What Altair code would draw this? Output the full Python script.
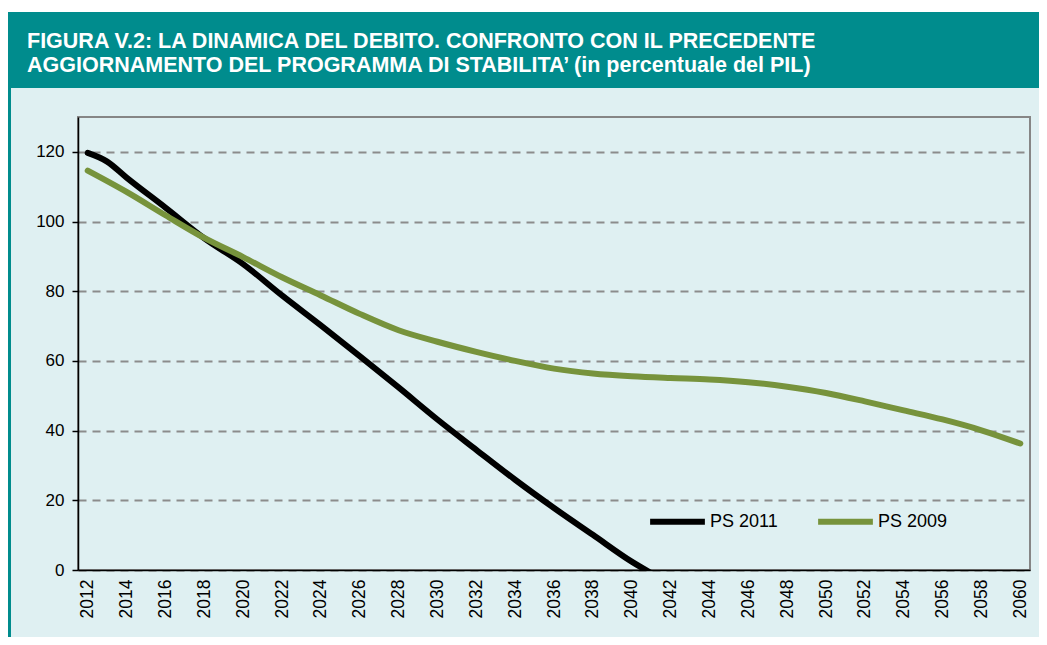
import altair as alt
import pandas as pd

# ---- data ----
years_ps2011 = [2012, 2013, 2014, 2016, 2018, 2020, 2022, 2024, 2026, 2028,
                2030, 2032, 2034, 2036, 2038, 2040, 2041]
ps2011 = [119.7, 117.2, 112.6, 104.0, 95.2, 87.8, 78.8, 70.2, 61.4, 52.4,
          43.2, 34.5, 25.9, 17.8, 10.1, 2.4, -0.9]

years_ps2009 = [2012, 2014, 2016, 2018, 2020, 2022, 2024, 2026, 2028, 2030,
                2032, 2034, 2036, 2038, 2040, 2042, 2044, 2046, 2048, 2050,
                2052, 2054, 2056, 2058, 2060]
ps2009 = [114.6, 108.5, 101.8, 95.3, 89.8, 84.0, 78.8, 73.5, 68.8, 65.5,
          62.6, 60.0, 57.8, 56.4, 55.6, 55.1, 54.7, 53.9, 52.6, 50.8,
          48.4, 45.8, 43.2, 40.1, 36.3]

series_names = ["PS 2011", "PS 2009"]
series_colors = ["#000000", "#77933C"]

x_tick_labels = [2012, 2014, 2016, 2018, 2020, 2022, 2024, 2026, 2028, 2030,
                 2032, 2034, 2036, 2038, 2040, 2042, 2044, 2046, 2048, 2050,
                 2052, 2054, 2056, 2058, 2060]
y_tick_labels = [0, 20, 40, 60, 80, 100, 120]

title_line_1 = "FIGURA V.2: LA DINAMICA DEL DEBITO. CONFRONTO CON IL PRECEDENTE"
title_line_2 = "AGGIORNAMENTO DEL PROGRAMMA DI STABILITA\u2019 (in percentuale del PIL)"

# ---- build table ----
df = pd.concat([
    pd.DataFrame({"anno": years_ps2011, "valore": ps2011, "serie": series_names[0]}),
    pd.DataFrame({"anno": years_ps2009, "valore": ps2009, "serie": series_names[1]}),
], ignore_index=True)

W, H = 952, 453
TEAL = "#008C8D"
BG = "#DFF0F2"
FONT = "Liberation Sans, Arial, sans-serif"
TITLE_FONT = "Liberation Sans, Arial, sans-serif"

one = pd.DataFrame({"k": [0]})

header = alt.Chart(one).mark_rect(color=TEAL).encode(
    x=alt.value(-70), x2=alt.value(W + 20), y=alt.value(-105), y2=alt.value(-29)
)
white_top = alt.Chart(one).mark_rect(color="white").encode(
    x=alt.value(-70), x2=alt.value(W + 20), y=alt.value(-110), y2=alt.value(-105)
)
left_border = alt.Chart(one).mark_rect(color=TEAL).encode(
    x=alt.value(-70), x2=alt.value(-67), y=alt.value(-29), y2=alt.value(H + 70)
)

title1 = alt.Chart(pd.DataFrame({"t": [title_line_1]})).mark_text(
    align="left", baseline="alphabetic", color="white", font=TITLE_FONT,
    fontSize=21.5, fontWeight="bold"
).encode(x=alt.value(-51), y=alt.value(-69), text="t:N")

title2 = alt.Chart(pd.DataFrame({"t": [title_line_2]})).mark_text(
    align="left", baseline="alphabetic", color="white", font=TITLE_FONT,
    fontSize=21.5, fontWeight="bold"
).encode(x=alt.value(-51), y=alt.value(-45), text="t:N")

lines = alt.Chart(df).mark_line(
    strokeWidth=6, strokeCap="round", strokeJoin="round",
    interpolate="monotone", clip=True
).encode(
    x=alt.X("anno:Q",
            scale=alt.Scale(domain=[2011.5, 2060.5], nice=False, zero=False),
            axis=alt.Axis(values=x_tick_labels, format="d", labelAngle=270,
                          title=None, grid=False, ticks=False,
                          labelFontSize=17.5, labelPadding=9,
                          domainColor="#000000", domainWidth=1.5)),
    y=alt.Y("valore:Q",
            scale=alt.Scale(domain=[0, 130], nice=False),
            axis=alt.Axis(values=y_tick_labels, title=None,
                          labelFontSize=17, labelPadding=8,
                          tickSize=6, tickColor="#000000", tickWidth=1.5,
                          domainColor="#000000", domainWidth=1.5,
                          grid=True, gridColor="#8C8C8C", gridWidth=2,
                          gridDash=[8, 6])),
    color=alt.Color("serie:N",
                    scale=alt.Scale(domain=series_names, range=series_colors),
                    sort=series_names,
                    legend=alt.Legend(title=None, orient="none",
                                      legendX=569, legendY=374,
                                      direction="horizontal",
                                      symbolType="stroke", symbolSize=3000,
                                      symbolStrokeWidth=6,
                                      labelFontSize=18, labelFont=FONT,
                                      labelColor="#000000",
                                      labelOffset=2, columnPadding=28)),
)

chart = alt.layer(white_top, header, left_border, title1, title2, lines).properties(
    width=W, height=H,
    padding={"left": 70, "top": 109, "right": 9, "bottom": 67},
    autosize=alt.AutoSizeParams(type="none"),
    background=BG,
).configure_view(
    stroke="#868686", strokeWidth=2, fill=BG
).configure_axis(
    labelFont=FONT, labelColor="#000000"
)

chart.save("out.html", embed_options={"renderer": "svg", "actions": False})
